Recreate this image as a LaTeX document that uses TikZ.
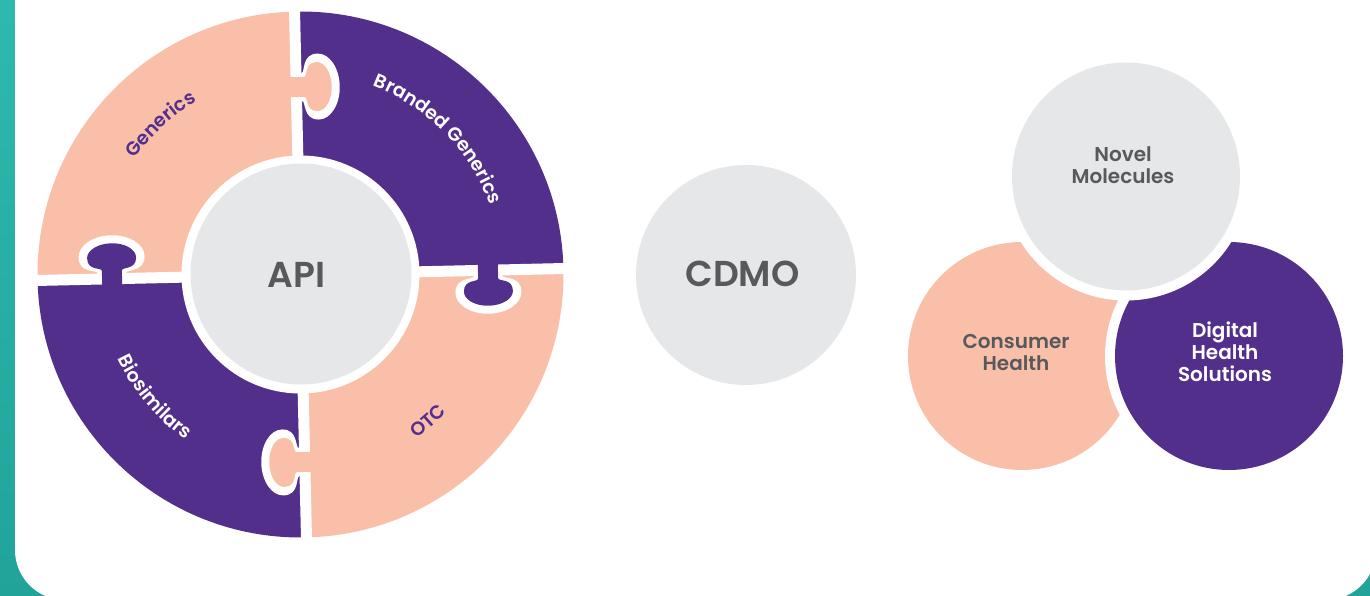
\documentclass[tikz,border=0pt]{standalone}
\usepackage{fontspec}
\setmainfont{Poppins}[BoldFont={Poppins SemiBold}]
\usetikzlibrary{decorations.text}
\definecolor{peach}{HTML}{FABFA9}
\definecolor{plum}{HTML}{532F8C}
\definecolor{lgray}{HTML}{E6E7E8}
\definecolor{dgray}{HTML}{58595B}
\definecolor{tealA}{HTML}{2FB9AE}
\definecolor{tealB}{HTML}{21A39A}
% #1 style, #2 neck half width, #3 head half width, #4 neck top, #5 head centre, #6 head half height, #7 base
\newcommand\keyhole[7]{%
  \fill[#1] (-#2,#7) -- (-#2,#4)
    .. controls (-#2,#4+4) and (-#3,#4) .. (-#3,#5)
    .. controls (-#3,#5+0.552*#6) and (-0.552*#3,#5+#6) .. (0,#5+#6)
    .. controls (0.552*#3,#5+#6) and (#3,#5+0.552*#6) .. (#3,#5)
    .. controls (#3,#4) and (#2,#4+4) .. (#2,#4)
    -- (#2,#7) -- cycle;}
\begin{document}
\begin{tikzpicture}[x=1pt,y=1pt,
  lbl/.style={font=\bfseries\fontsize{20}{22}\selectfont, align=center},
  big/.style={font=\bfseries\fontsize{36}{36}\selectfont, text=dgray},
  arclbl/.style 2 args={decorate, decoration={text along path, text align=center,
     text color=#1, text={|\bfseries\fontsize{19}{19}\selectfont|#2}}}]
\useasboundingbox (0,0) rectangle (1370,596);
\shade[bottom color=tealB, top color=tealA] (0,0) rectangle (1370,596);
\fill[white, rounded corners=50] (15,-4) rectangle (1376,650);

\def\cx{300.5}\def\cy{321.5}
% puzzle ring
\begin{scope}[shift={(\cx,\cy)}, rotate=1.3]
  \fill[peach] (0,0) -- (90:263) arc[start angle=90,end angle=180,radius=263] -- cycle;
  \fill[plum]  (0,0) -- (0:263) arc[start angle=0,end angle=90,radius=263] -- cycle;
  \fill[plum]  (0,0) -- (180:263) arc[start angle=180,end angle=270,radius=263] -- cycle;
  \fill[peach] (0,0) -- (270:263) arc[start angle=270,end angle=360,radius=263] -- cycle;
  \draw[white, line width=11] (-270,0) -- (270,0) (0,-270) -- (0,270);
  \begin{scope}[shift={(0,187.5)}, rotate=-90]
    \keyhole{white}{14}{33}{5.5}{22}{21.5}{0}
    \keyhole{peach}{10}{24.5}{8}{21}{14.5}{-8}
  \end{scope}
  \begin{scope}[shift={(-188.5,0)}]
    \keyhole{white}{14}{33}{5.5}{22}{21.5}{0}
    \keyhole{plum}{10}{24.5}{8}{21}{14.5}{-8}
  \end{scope}
  \begin{scope}[shift={(187.5,0)}, rotate=180]
    \keyhole{white}{14}{33}{5.5}{22}{21.5}{0}
    \keyhole{plum}{10}{24.5}{8}{21}{14.5}{-8}
  \end{scope}
  \begin{scope}[shift={(0,-187.5)}, rotate=90]
    \keyhole{white}{14}{33}{5.5}{22}{21.5}{0}
    \keyhole{peach}{10}{24.5}{8}{21}{14.5}{-8}
  \end{scope}
\end{scope}
\fill[white] (\cx,\cy) circle[radius=119];
\fill[lgray] (301,322) circle[radius=110.5];
\node[big] (api) at (296.5,321.5) {API};

% curved labels
\begin{scope}[shift={(\cx,\cy)}]
  \path[arclbl={plum}{Generics}] (170:202) arc[start angle=170,end angle=96,radius=202];
  \path[arclbl={white}{Branded Generics}] (82:202) arc[start angle=82,end angle=7,radius=202];
  \path[arclbl={white}{Biosimilars}] (185:201) arc[start angle=185,end angle=255,radius=201];
  \path[arclbl={plum}{OTC}] (281:201) arc[start angle=281,end angle=341,radius=201];
\end{scope}

% CDMO
\fill[lgray] (746,321) circle[radius=110];
\node[big] (cdmo) at (742.5,322) {CDMO};

% Venn-like trio
\fill[white] (1022,240) circle[radius=124];
\fill[peach] (1022,240) circle[radius=114];
\fill[white] (1229,240) circle[radius=124];
\fill[plum] (1229,240) circle[radius=114];
\fill[white] (1126,419.5) circle[radius=124];
\fill[lgray] (1126,419.5) circle[radius=114];
\node[lbl, text=dgray] (novel) at (1123,431) {Novel\\Molecules};
\node[lbl, text=dgray] (consumer) at (1016,243) {Consumer\\Health};
\node[lbl, text=white] (digital) at (1225,244) {Digital\\Health\\Solutions};
\end{tikzpicture}
\end{document}
